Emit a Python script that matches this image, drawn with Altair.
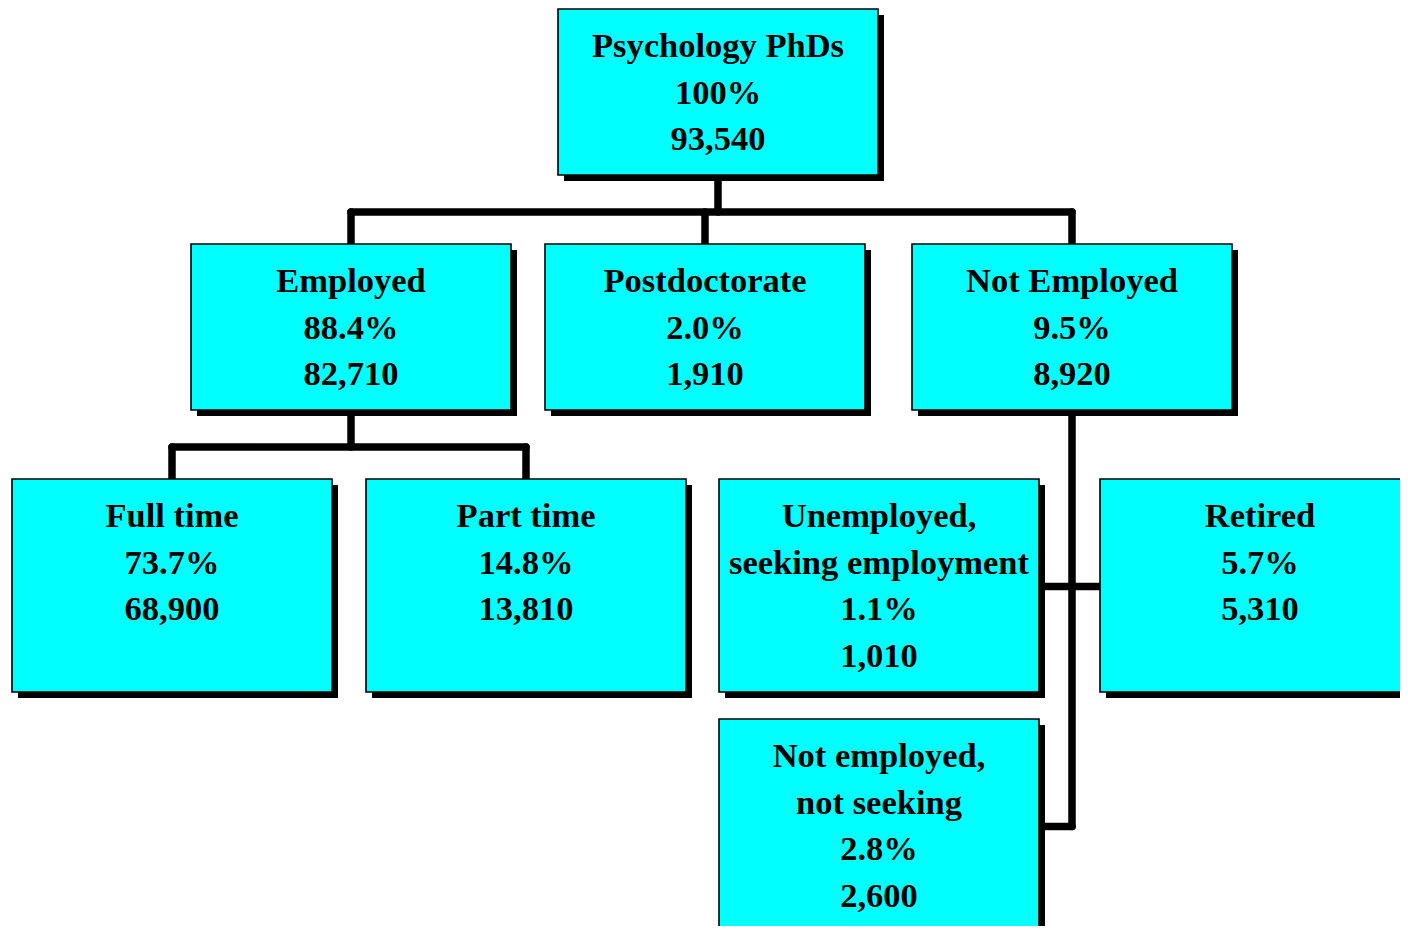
import altair as alt
import pandas as pd

# ---- chart content ----
names = ["root", "emp", "post", "notemp", "full", "part", "unemp", "retired", "notseek"]
titles = [["Psychology PhDs"], ["Employed"], ["Postdoctorate"], ["Not Employed"],
          ["Full time"], ["Part time"], ["Unemployed,", "seeking employment"],
          ["Retired"], ["Not employed,", "not seeking"]]
percents = ["100%", "88.4%", "2.0%", "9.5%", "73.7%", "14.8%", "1.1%", "5.7%", "2.8%"]
counts = [93540, 82710, 1910, 8920, 68900, 13810, 1010, 5310, 2600]
parents = [None, "root", "root", "root", "emp", "emp", "notemp", "notemp", "notemp"]

# ---- layout (image pixel space) ----
box_left = {"root": 558, "emp": 191, "post": 545, "notemp": 912, "full": 12,
            "part": 366, "unemp": 719, "retired": 1100, "notseek": 719}
box_top = {"root": 9, "emp": 244, "post": 244, "notemp": 244, "full": 479,
           "part": 479, "unemp": 479, "retired": 479, "notseek": 719}
box_h = {"root": 166, "emp": 166, "post": 166, "notemp": 166, "full": 213,
         "part": 213, "unemp": 213, "retired": 213, "notseek": 213}
BOX_W = 320
SHADOW = 6
bus_y = {"root": 212, "emp": 447}
side_children = {"notemp": True}
FIRST_LINE = 48
LINE_H = 46.5

boxes, shadows, texts, segs = [], [], [], []
for i, n in enumerate(names):
    x0, y0 = box_left[n], box_top[n]
    x1, y1 = x0 + BOX_W, y0 + box_h[n]
    boxes.append(dict(x=x0, x2=x1, y=y0, y2=y1))
    shadows.append(dict(x=x0 + SHADOW, x2=x1 + SHADOW, y=y0 + SHADOW, y2=y1 + SHADOW))
    lines = titles[i] + [percents[i], f"{counts[i]:,}"]
    for k, t in enumerate(lines):
        texts.append(dict(x=(x0 + x1) / 2, y=y0 + FIRST_LINE + k * LINE_H, t=t))

def center(n):
    return box_left[n] + BOX_W / 2

for p in set(x for x in parents if x):
    kids = [n for n, q in zip(names, parents) if q == p]
    pb = box_top[p] + box_h[p]
    if p in side_children:
        px = center(p)
        ys = []
        for k in kids:
            cy = box_top[k] + box_h[k] / 2 + 1
            edge = box_left[k] + BOX_W if box_left[k] < px else box_left[k]
            segs.append(dict(x=px, x2=edge, y=cy, y2=cy))
            ys.append(cy)
        segs.append(dict(x=px, x2=px, y=pb, y2=max(ys)))
    else:
        by = bus_y[p]
        segs.append(dict(x=center(p), x2=center(p), y=pb, y2=by))
        cx = [center(k) for k in kids]
        segs.append(dict(x=min(cx), x2=max(cx), y=by, y2=by))
        for k in kids:
            segs.append(dict(x=center(k), x2=center(k), y=by, y2=box_top[k]))

xs = alt.Scale(domain=[8, 1400], nice=False, zero=False)
ys_ = alt.Scale(domain=[8, 926], nice=False, zero=False, reverse=True)
X = lambda f: alt.X(f, type="quantitative", scale=xs, axis=None)
Y = lambda f: alt.Y(f, type="quantitative", scale=ys_, axis=None)

conn = alt.Chart(pd.DataFrame(segs)).mark_rule(
    color="black", strokeWidth=7.5, strokeCap="round", clip=True
).encode(x=X("x"), x2="x2", y=Y("y"), y2="y2")

shadow = alt.Chart(pd.DataFrame(shadows)).mark_rect(color="black", clip=True).encode(
    x=X("x"), x2="x2", y=Y("y"), y2="y2")

box = alt.Chart(pd.DataFrame(boxes)).mark_rect(
    fill="#00FFFF", stroke="black", strokeWidth=1.6, clip=True
).encode(x=X("x"), x2="x2", y=Y("y"), y2="y2")

txt = alt.Chart(pd.DataFrame(texts)).mark_text(
    font="Liberation Serif", fontWeight="bold", fontSize=34.5, color="black",
    align="center", baseline="alphabetic", clip=True
).encode(x=X("x"), y=Y("y"), text="t:N")

chart = alt.layer(conn, shadow, box, txt).properties(
    width=1392, height=918, padding=0, autosize=alt.AutoSizeParams(type="none"),
    background="white"
).configure_view(stroke=None)

chart.save("out.html", embed_options={"renderer": "svg", "actions": False})
